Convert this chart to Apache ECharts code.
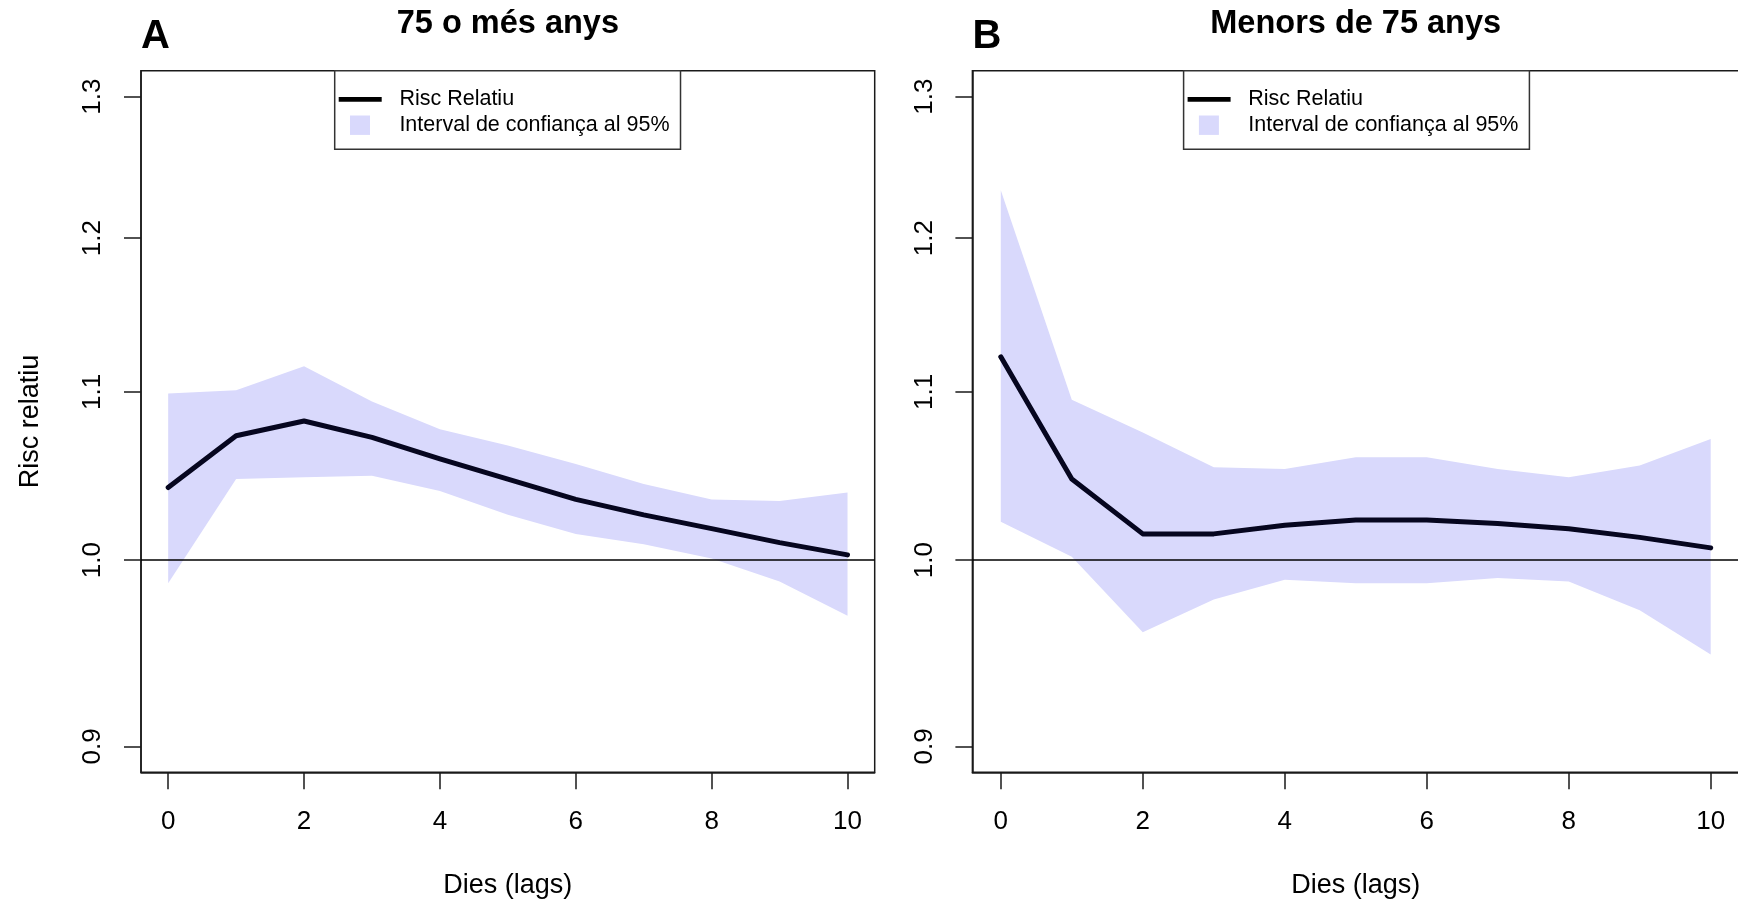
<!DOCTYPE html>
<html>
<head>
<meta charset="utf-8">
<script src="https://cdn.jsdelivr.net/npm/echarts@6/dist/echarts.min.js"></script>
<style>
html,body{margin:0;padding:0;background:#fff;}
#chart{width:1738px;height:905px;}
</style>
</head>
<body>
<div id="chart"></div>
<script>
// ---------- data ----------
const lags = [0, 1, 2, 3, 4, 5, 6, 7, 8, 9, 10];
const xTicks = [0, 2, 4, 6, 8, 10];
const yTickValues = [0.9, 1.0, 1.1, 1.2, 1.3];
const yTickLabels = ['0.9', '1.0', '1.1', '1.2', '1.3'];

// Panel A: 75 o més anys
const rrA  = [1.042, 1.073, 1.082, 1.072, 1.059, 1.047, 1.035, 1.026, 1.018, 1.010, 1.003];
const lowA = [0.987, 1.047, 1.048, 1.049, 1.040, 1.026, 1.015, 1.009, 1.001, 0.988, 0.969];
const upA  = [1.099, 1.101, 1.116, 1.094, 1.077, 1.067, 1.056, 1.044, 1.035, 1.034, 1.039];

// Panel B: Menors de 75 anys
const rrB  = [1.122, 1.047, 1.015, 1.015, 1.020, 1.023, 1.023, 1.021, 1.018, 1.013, 1.007];
const lowB = [1.022, 1.002, 0.960, 0.978, 0.989, 0.987, 0.987, 0.990, 0.988, 0.972, 0.948];
const upB  = [1.233, 1.095, 1.075, 1.054, 1.053, 1.060, 1.060, 1.053, 1.048, 1.055, 1.071];

const panelTitles = ['75 o més anys', 'Menors de 75 anys'];
const panelLetters = ['A', 'B'];
const seriesNames = ['Risc Relatiu', 'Interval de confiança al 95%'];
const xAxisTitle = 'Dies (lags)';
const yAxisTitle = 'Risc relatiu';
const refValue = 1.0;
const yLim = [0.9, 1.3];

// ---------- styling / layout ----------
const FONT = "'Liberation Sans', Arial, Helvetica, sans-serif";
const LINE = '#06061f';
const BAND = '#d9d9fc';
const AXIS = '#1a1a1a';
const ln = Math.log;

const panels = [
  {rr: rrA, low: lowA, up: upA},
  {rr: rrB, low: lowB, up: upB}
];
const gridRects = [
  {left: 141, top: 70.7, width: 733.7, height: 701.6},
  {left: 972.4, top: 70.7, width: 766.7, height: 701.6}
];
const titleCenters = [507.85, 1355.7];
const legendLeft = [334.7, 1183.6];

const xMin = lags[0], xMax = lags[lags.length - 1];
const xPad = 0.04 * (xMax - xMin);
const yLo = ln(yLim[0]), yHi = ln(yLim[1]);
const yPad = 0.04 * (yHi - yLo);
const yTickPos = yTickValues.map(ln);

function yLabel(v) {
  for (let k = 0; k < yTickPos.length; k++) {
    if (Math.abs(yTickPos[k] - v) < 1e-6) return yTickLabels[k];
  }
  return '';
}

const LINE_ICON = 'path://M0,0M56,20M0.3,7.6H43.3V12.4H0.3Z';
const PATCH_ICON = 'path://M0,0M56,20M11.6,0.3H31.6V19.7H11.6Z';

const grids = gridRects.map(r => Object.assign({
  show: true, borderColor: AXIS, borderWidth: 1.5, backgroundColor: 'transparent',
  containLabel: false, outerBoundsMode: 'none'
}, r));

const xAxes = [0, 1].map(i => ({
  type: 'value', gridIndex: i, min: xMin - xPad, max: xMax + xPad,
  axisLine: {show: true, onZero: false, lineStyle: {color: AXIS, width: 1.5}},
  splitLine: {show: false},
  axisTick: {show: true, inside: false, length: 17, customValues: xTicks,
             lineStyle: {color: AXIS, width: 1.5}},
  axisLabel: {show: true, customValues: xTicks, margin: 37, fontSize: 26,
              color: '#000', fontFamily: FONT},
  name: xAxisTitle, nameLocation: 'middle', nameGap: 100,
  nameTextStyle: {fontSize: 27, color: '#000', fontFamily: FONT}
}));

const yAxes = [0, 1].map(i => ({
  type: 'value', gridIndex: i, min: yLo - yPad, max: yHi + yPad,
  axisLine: {show: true, onZero: false, lineStyle: {color: AXIS, width: 1.5}},
  splitLine: {show: false},
  axisTick: {show: true, inside: false, length: 17, customValues: yTickPos,
             lineStyle: {color: AXIS, width: 1.5}},
  axisLabel: {show: true, customValues: yTickPos, rotate: 90, margin: 35,
              fontSize: 26, color: '#000', fontFamily: FONT, formatter: yLabel},
  name: i === 0 ? yAxisTitle : '', nameLocation: 'middle', nameGap: 97, nameRotate: 90,
  nameTextStyle: {fontSize: 27, color: '#000', fontFamily: FONT}
}));

const series = [];
panels.forEach((p, i) => {
  const band = lags.map((x, k) => [x, ln(p.low[k]), ln(p.up[k])]);
  const rr = lags.map((x, k) => [x, ln(p.rr[k])]);
  series.push({
    name: seriesNames[1], type: 'custom', xAxisIndex: i, yAxisIndex: i,
    data: band, encode: {x: 0, y: [1, 2]}, silent: true, z: 1,
    itemStyle: {color: BAND},
    renderItem: function (params, api) {
      if (params.dataIndex !== 0) return null;
      const pts = [];
      for (let k = 0; k < band.length; k++) pts.push(api.coord([band[k][0], band[k][2]]));
      for (let k = band.length - 1; k >= 0; k--) pts.push(api.coord([band[k][0], band[k][1]]));
      return {type: 'polygon', shape: {points: pts}, style: {fill: BAND, stroke: null}, silent: true};
    }
  });
  series.push({
    name: seriesNames[0], type: 'line', xAxisIndex: i, yAxisIndex: i,
    data: rr, symbol: 'none', showSymbol: false, color: LINE,
    itemStyle: {color: LINE},
    lineStyle: {color: LINE, width: 5, cap: 'round', join: 'round'},
    z: 3,
    markLine: {
      silent: true, symbol: 'none', label: {show: false},
      lineStyle: {color: '#000', width: 1.5, type: 'solid'},
      data: [{yAxis: ln(refValue)}]
    }
  });
});

const titles = [];
[0, 1].forEach(i => {
  const r = gridRects[i];
  titles.push({
    text: panelLetters[i], left: r.left, top: 37, padding: 0,
    textAlign: 'left', textVerticalAlign: 'middle',
    textStyle: {fontSize: 40, fontWeight: 'bold', color: '#000', fontFamily: FONT}
  });
  titles.push({
    text: panelTitles[i], left: titleCenters[i], top: 24.5, padding: 0,
    textAlign: 'center', textVerticalAlign: 'middle',
    textStyle: {fontSize: 32.5, fontWeight: 'bold', color: '#000', fontFamily: FONT}
  });
});

const legends = [0, 1].map(i => ({
  left: legendLeft[i], top: 70.7, orient: 'vertical', selectedMode: false,
  padding: [17.6, 11, 13, 3.7], itemWidth: 56, itemHeight: 20, itemGap: 3.9,
  borderColor: '#333', borderWidth: 1.5, backgroundColor: '#fff', borderRadius: 0,
  textStyle: {fontSize: 21.5, color: '#000', fontFamily: FONT},
  data: [
    {name: seriesNames[0], icon: LINE_ICON, itemStyle: {color: '#000', borderWidth: 0}},
    {name: seriesNames[1], icon: PATCH_ICON, itemStyle: {color: BAND, borderWidth: 0}}
  ]
}));

const chart = echarts.init(document.getElementById('chart'), null, {width: 1738, height: 905});
chart.setOption({
  animation: false,
  backgroundColor: '#fff',
  textStyle: {fontFamily: FONT},
  title: titles,
  legend: legends,
  grid: grids,
  xAxis: xAxes,
  yAxis: yAxes,
  series: series
});
</script>
</body>
</html>
